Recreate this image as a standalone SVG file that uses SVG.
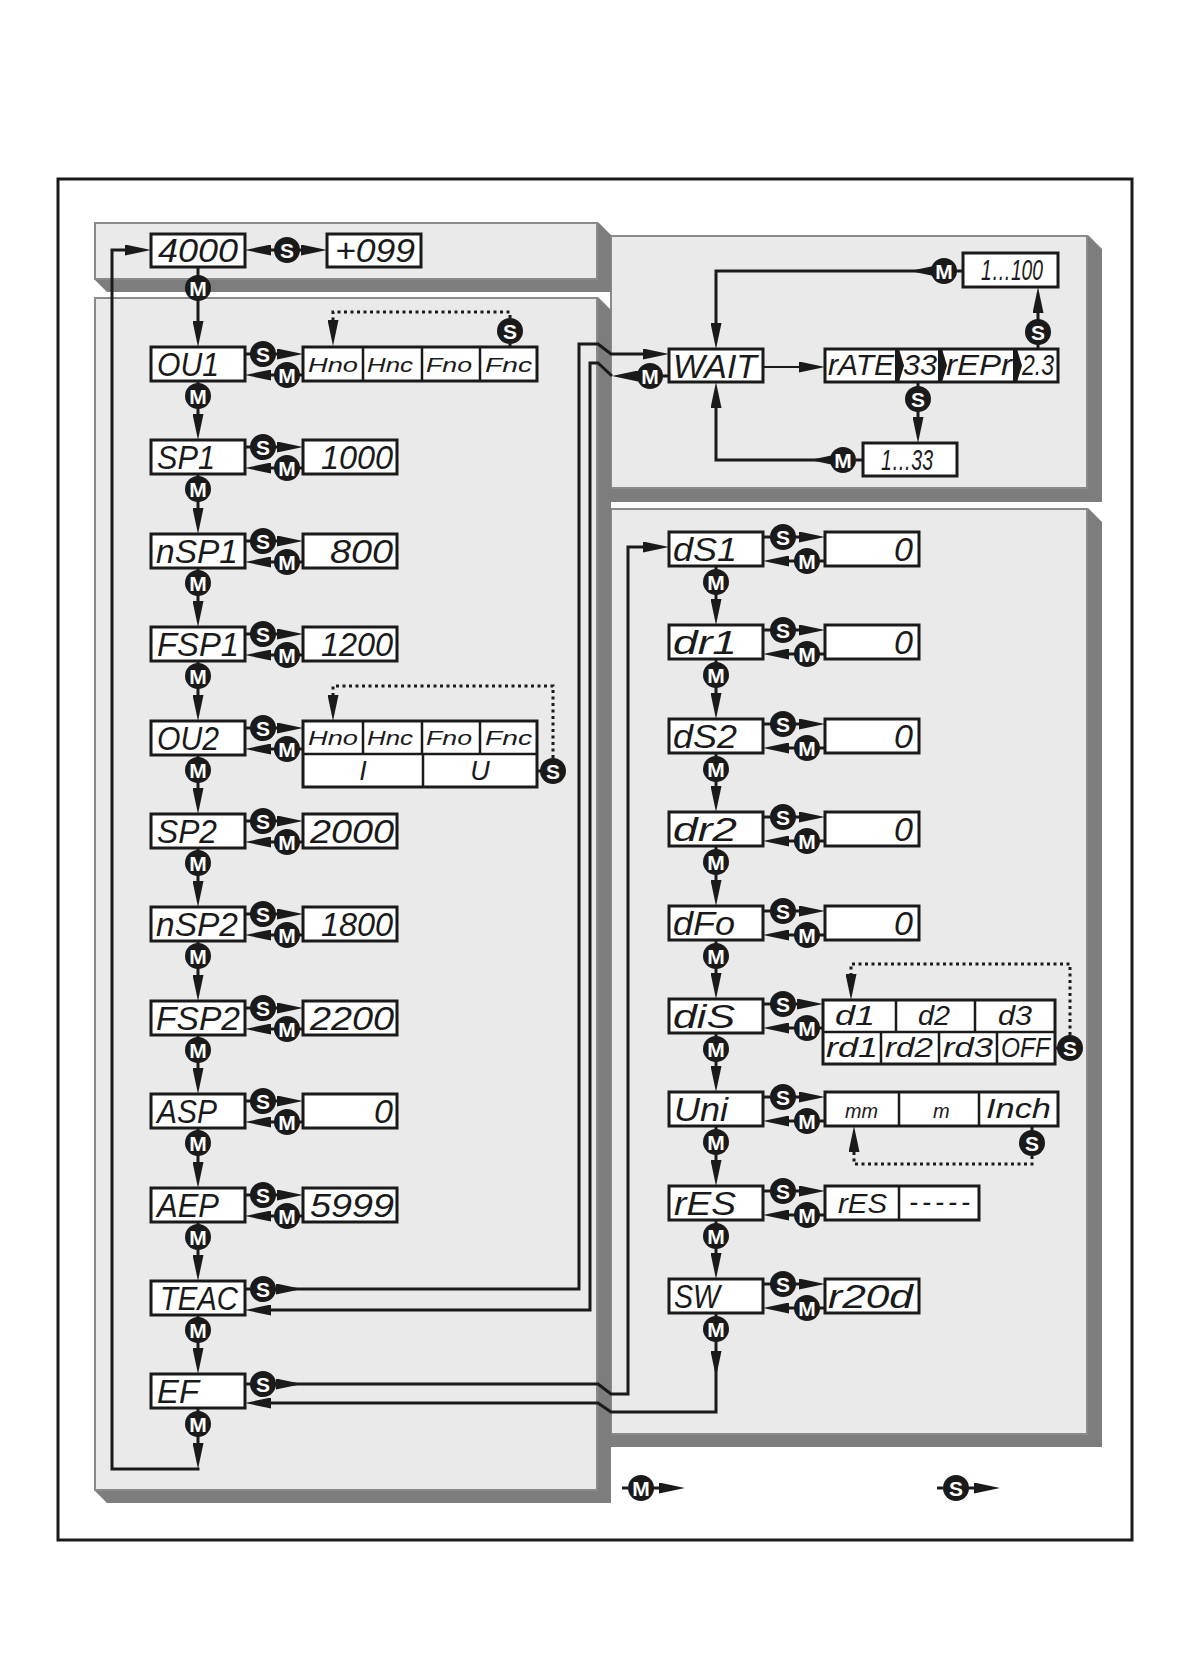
<svg xmlns="http://www.w3.org/2000/svg" xmlns:xlink="http://www.w3.org/1999/xlink" width="1191" height="1678" viewBox="0 0 1191 1678">
<style>
.pl{fill:#eaeaea;stroke:#8a8a8a;stroke-width:2}
.sh{fill:#7d7d7d}
.bx{fill:#fff;stroke:#1a1a1a;stroke-width:3}
.dv{stroke:#1a1a1a;stroke-width:2.5;fill:none}
.ln{fill:none;stroke:#1a1a1a;stroke-width:3}
.ar{fill:none;stroke:#1a1a1a;stroke-width:3;marker-end:url(#ah)}
.a2{fill:none;stroke:#1a1a1a;stroke-width:2;marker-end:url(#ah)}
.dt{fill:none;stroke:#1a1a1a;stroke-width:3;stroke-dasharray:3 3.5;marker-end:url(#ah)}
.t{font-family:"Liberation Sans",Arial,sans-serif;font-style:italic;fill:#1a1a1a}
.lg{font-size:34px}
.mi{font-size:30px}
.md{font-size:27px}
.sm{font-size:20px}
.ve{text-anchor:end}
.vc{text-anchor:middle}
.bc{fill:#1a1a1a}
.bt{font-family:"Liberation Sans",Arial,sans-serif;font-weight:bold;font-size:21px;fill:#fff;text-anchor:middle}
.ch{fill:#1a1a1a}
</style>
<defs>
<marker id="ah" markerUnits="userSpaceOnUse" markerWidth="26" markerHeight="11" viewBox="0 0 26 11" refX="16" refY="5.5" orient="auto"><path d="M0,0 L26,5.5 L0,11 Z" fill="#1a1a1a"/></marker>
<g id="bS"><circle class="bc" r="13"/><text class="bt" y="7.5">S</text></g>
<g id="bM"><circle class="bc" r="13"/><text class="bt" y="7.5">M</text></g>
</defs>
<rect x="0" y="0" width="1191" height="1678" fill="#fff"/>
<rect x="58" y="179" width="1074" height="1361" fill="none" stroke="#1a1a1a" stroke-width="3"/>
<g id="panels">
<polygon class="sh" points="611,235 1088,235 1102,249 1102,502 611,502"/>
<rect class="pl" x="611" y="236" width="476" height="252"/>
<polygon class="sh" points="611,508 1088,508 1102,522 1102,1447 611,1447"/>
<rect class="pl" x="611" y="509" width="476" height="925"/>
<polygon class="sh" points="94,222 598,222 611,235 611,292 107,292 94,279"/>
<rect class="pl" x="95" y="223" width="502" height="56"/>
<polygon class="sh" points="94,297 598,297 611,310 611,1503 107,1503 94,1490"/>
<rect class="pl" x="95" y="298" width="502" height="1192"/>
</g>
<g id="connectors">
<path class="ar" d="M287,250 H255"/>
<path class="ar" d="M287,250 H317"/>
<path class="ar" d="M198,267 V337"/>
<path class="ar" d="M245,354 H293"/><path class="ar" d="M303,375 H255"/><path class="ar" d="M198,381 V430"/>
<path class="ar" d="M245,447 H293"/><path class="ar" d="M303,468 H255"/><path class="ar" d="M198,474 V524"/>
<path class="ar" d="M245,541 H293"/><path class="ar" d="M303,562 H255"/><path class="ar" d="M198,568 V617"/>
<path class="ar" d="M245,634 H293"/><path class="ar" d="M303,655 H255"/><path class="ar" d="M198,661 V711"/>
<path class="ar" d="M245,728 H293"/><path class="ar" d="M303,749 H255"/><path class="ar" d="M198,755 V804"/>
<path class="ar" d="M245,821 H293"/><path class="ar" d="M303,842 H255"/><path class="ar" d="M198,848 V897"/>
<path class="ar" d="M245,914 H293"/><path class="ar" d="M303,935 H255"/><path class="ar" d="M198,941 V991"/>
<path class="ar" d="M245,1008 H293"/><path class="ar" d="M303,1029 H255"/><path class="ar" d="M198,1035 V1084"/>
<path class="ar" d="M245,1101 H293"/><path class="ar" d="M303,1122 H255"/><path class="ar" d="M198,1128 V1178"/>
<path class="ar" d="M245,1195 H293"/><path class="ar" d="M303,1216 H255"/><path class="ar" d="M198,1222 V1271"/>
<path class="ar" d="M198,1315 V1364"/>
<path class="ar" d="M198,1408 V1459"/>
<path class="ar" d="M199.5,1469 H112 V250 H141"/>
<path class="ln" d="M510,344 V347"/>
<path class="dt" d="M510,318 V312 H333 V336"/>
<path class="ln" d="M537,771 H541"/>
<path class="dt" d="M553,758 V686 H333 V711"/>
<path class="ar" d="M245,1289 H292"/>
<path class="ar" d="M292,1289 H579 V344 H598 L611,354 H659"/>
<path class="ar" d="M669,376 H622"/>
<path class="ar" d="M612,376 L598,363 H590 V1310 H255"/>
<path class="ar" d="M245,1384 H292"/>
<path class="ar" d="M292,1384 H598 L611,1394 H628 V547 H659"/>
<path class="ar" d="M716,1313 V1367"/>
<path class="ar" d="M716,1367 V1412 H611 L598,1403 H255"/>
<path class="a2" d="M763,367 H815"/>
<path class="ln" d="M918,382 V387"/>
<path class="ar" d="M918,399 V433"/>
<path class="ln" d="M863,460 H856"/>
<path class="ar" d="M843,460 H820"/>
<path class="ar" d="M820,460 H716 V392"/>
<path class="ln" d="M1038,349 V344"/>
<path class="ar" d="M1038,332 V297"/>
<path class="ln" d="M963,271 H956"/>
<path class="ar" d="M944,271 H920"/>
<path class="ar" d="M920,271 H716 V339"/>
<path class="ar" d="M763,537 H815"/><path class="ar" d="M825,561 H773"/><path class="ar" d="M716,566 V615"/>
<path class="ar" d="M763,630 H815"/><path class="ar" d="M825,654 H773"/><path class="ar" d="M716,659 V709"/>
<path class="ar" d="M763,724 H815"/><path class="ar" d="M825,748 H773"/><path class="ar" d="M716,753 V802"/>
<path class="ar" d="M763,817 H815"/><path class="ar" d="M825,841 H773"/><path class="ar" d="M716,846 V896"/>
<path class="ar" d="M763,911 H815"/><path class="ar" d="M825,935 H773"/><path class="ar" d="M716,940 V989"/>
<path class="ar" d="M763,1004 H813"/><path class="ar" d="M823,1028 H773"/><path class="ar" d="M716,1033 V1082"/>
<path class="ar" d="M763,1097 H815"/><path class="ar" d="M825,1121 H773"/><path class="ar" d="M716,1126 V1176"/>
<path class="ar" d="M763,1191 H815"/><path class="ar" d="M825,1215 H773"/><path class="ar" d="M716,1220 V1269"/>
<path class="ar" d="M763,1284 H815"/><path class="ar" d="M825,1308 H773"/>
<path class="ln" d="M1055,1048 H1058"/>
<path class="dt" d="M1070,1035 V964 H851 V990"/>
<path class="ln" d="M1032,1126 V1131"/>
<path class="dt" d="M1032,1156 V1164 H854 V1136"/>
<path class="ln" d="M622,1488 H628"/>
<path class="ar" d="M641,1488 H675"/>
<path class="ln" d="M937,1488 H943"/>
<path class="ar" d="M956,1488 H990"/>
</g>
<g id="buttons">
<use xlink:href="#bS" x="287" y="250"/>
<use xlink:href="#bM" x="198" y="288"/>
<use xlink:href="#bS" x="263" y="354"/><use xlink:href="#bS" x="263" y="447"/><use xlink:href="#bS" x="263" y="541"/><use xlink:href="#bS" x="263" y="634"/><use xlink:href="#bS" x="263" y="728"/><use xlink:href="#bS" x="263" y="821"/><use xlink:href="#bS" x="263" y="914"/><use xlink:href="#bS" x="263" y="1008"/><use xlink:href="#bS" x="263" y="1101"/><use xlink:href="#bS" x="263" y="1195"/><use xlink:href="#bS" x="263" y="1289"/><use xlink:href="#bS" x="263" y="1384"/>
<use xlink:href="#bM" x="287" y="375"/><use xlink:href="#bM" x="287" y="468"/><use xlink:href="#bM" x="287" y="562"/><use xlink:href="#bM" x="287" y="655"/><use xlink:href="#bM" x="287" y="749"/><use xlink:href="#bM" x="287" y="842"/><use xlink:href="#bM" x="287" y="935"/><use xlink:href="#bM" x="287" y="1029"/><use xlink:href="#bM" x="287" y="1122"/><use xlink:href="#bM" x="287" y="1216"/>
<use xlink:href="#bM" x="198" y="396"/><use xlink:href="#bM" x="198" y="489"/><use xlink:href="#bM" x="198" y="583"/><use xlink:href="#bM" x="198" y="676"/><use xlink:href="#bM" x="198" y="770"/><use xlink:href="#bM" x="198" y="863"/><use xlink:href="#bM" x="198" y="956"/><use xlink:href="#bM" x="198" y="1050"/><use xlink:href="#bM" x="198" y="1143"/><use xlink:href="#bM" x="198" y="1237"/><use xlink:href="#bM" x="198" y="1330"/><use xlink:href="#bM" x="198" y="1424"/>
<use xlink:href="#bS" x="510" y="331"/>
<use xlink:href="#bS" x="553" y="771"/>
<use xlink:href="#bM" x="650" y="376"/>
<use xlink:href="#bS" x="918" y="399"/>
<use xlink:href="#bS" x="1038" y="332"/>
<use xlink:href="#bM" x="843" y="460"/>
<use xlink:href="#bM" x="944" y="271"/>
<use xlink:href="#bS" x="783" y="537"/><use xlink:href="#bS" x="783" y="630"/><use xlink:href="#bS" x="783" y="724"/><use xlink:href="#bS" x="783" y="817"/><use xlink:href="#bS" x="783" y="911"/><use xlink:href="#bS" x="783" y="1004"/><use xlink:href="#bS" x="783" y="1097"/><use xlink:href="#bS" x="783" y="1191"/><use xlink:href="#bS" x="783" y="1284"/>
<use xlink:href="#bM" x="807" y="561"/><use xlink:href="#bM" x="807" y="654"/><use xlink:href="#bM" x="807" y="748"/><use xlink:href="#bM" x="807" y="841"/><use xlink:href="#bM" x="807" y="935"/><use xlink:href="#bM" x="807" y="1028"/><use xlink:href="#bM" x="807" y="1121"/><use xlink:href="#bM" x="807" y="1215"/><use xlink:href="#bM" x="807" y="1308"/>
<use xlink:href="#bM" x="716" y="582"/><use xlink:href="#bM" x="716" y="675"/><use xlink:href="#bM" x="716" y="769"/><use xlink:href="#bM" x="716" y="862"/><use xlink:href="#bM" x="716" y="956"/><use xlink:href="#bM" x="716" y="1049"/><use xlink:href="#bM" x="716" y="1142"/><use xlink:href="#bM" x="716" y="1236"/><use xlink:href="#bM" x="716" y="1329"/>
<use xlink:href="#bS" x="1070" y="1048"/>
<use xlink:href="#bS" x="1032" y="1143"/>
<use xlink:href="#bM" x="641" y="1488"/>
<use xlink:href="#bS" x="956" y="1488"/>
</g>
<g id="n-4000"><rect class="bx" x="151" y="234" width="94" height="33"/><text class="t lg" x="158" y="262" textLength="80" lengthAdjust="spacingAndGlyphs">4000</text></g>
<g id="n-p099"><rect class="bx" x="327" y="234" width="94" height="33"/><text class="t lg" x="335" y="262" textLength="80" lengthAdjust="spacingAndGlyphs">+099</text></g>
<g id="n-OU1"><rect class="bx" x="151" y="347" width="94" height="34"/><text class="t lg" x="157" y="376" textLength="62" lengthAdjust="spacingAndGlyphs">OU1</text></g>
<g id="n-OU1-opt"><rect class="bx" x="303" y="347" width="234" height="34"/><path class="dv" d="M363,347 V381 M422,347 V381 M480,347 V381"/>
<text class="t sm" x="308" y="372" textLength="50" lengthAdjust="spacingAndGlyphs">Hno</text><text class="t sm" x="367" y="372" textLength="46" lengthAdjust="spacingAndGlyphs">Hnc</text><text class="t sm" x="426" y="372" textLength="46" lengthAdjust="spacingAndGlyphs">Fno</text><text class="t sm" x="485" y="372" textLength="47" lengthAdjust="spacingAndGlyphs">Fnc</text></g>
<g id="n-SP1"><rect class="bx" x="151" y="440" width="94" height="34"/><text class="t lg" x="157" y="469" textLength="58" lengthAdjust="spacingAndGlyphs">SP1</text></g>
<g id="n-SP1-val"><rect class="bx" x="303" y="440" width="94" height="34"/><text class="t lg ve" x="393" y="469" textLength="72" lengthAdjust="spacingAndGlyphs">1000</text></g>
<g id="n-nSP1"><rect class="bx" x="151" y="534" width="94" height="34"/><text class="t lg" x="156" y="563" textLength="82" lengthAdjust="spacingAndGlyphs">nSP1</text></g>
<g id="n-nSP1-val"><rect class="bx" x="303" y="534" width="94" height="34"/><text class="t lg ve" x="393" y="563" textLength="63" lengthAdjust="spacingAndGlyphs">800</text></g>
<g id="n-FSP1"><rect class="bx" x="151" y="627" width="94" height="34"/><text class="t lg" x="157" y="656" textLength="82" lengthAdjust="spacingAndGlyphs">FSP1</text></g>
<g id="n-FSP1-val"><rect class="bx" x="303" y="627" width="94" height="34"/><text class="t lg ve" x="393" y="656" textLength="72" lengthAdjust="spacingAndGlyphs">1200</text></g>
<g id="n-OU2"><rect class="bx" x="151" y="721" width="94" height="34"/><text class="t lg" x="157" y="750" textLength="62" lengthAdjust="spacingAndGlyphs">OU2</text></g>
<g id="n-OU2-opt"><rect class="bx" x="303" y="721" width="234" height="66"/><path class="dv" d="M303,754 H537 M363,721 V754 M422,721 V754 M480,721 V754 M423,754 V787"/>
<text class="t sm" x="308" y="745" textLength="50" lengthAdjust="spacingAndGlyphs">Hno</text><text class="t sm" x="367" y="745" textLength="46" lengthAdjust="spacingAndGlyphs">Hnc</text><text class="t sm" x="426" y="745" textLength="46" lengthAdjust="spacingAndGlyphs">Fno</text><text class="t sm" x="485" y="745" textLength="47" lengthAdjust="spacingAndGlyphs">Fnc</text>
<text class="t md vc" x="363" y="780">I</text><text class="t md vc" x="480" y="780">U</text></g>
<g id="n-SP2"><rect class="bx" x="151" y="814" width="94" height="34"/><text class="t lg" x="157" y="843" textLength="60" lengthAdjust="spacingAndGlyphs">SP2</text></g>
<g id="n-SP2-val"><rect class="bx" x="303" y="814" width="94" height="34"/><text class="t lg ve" x="394" y="843" textLength="84" lengthAdjust="spacingAndGlyphs">2000</text></g>
<g id="n-nSP2"><rect class="bx" x="151" y="907" width="94" height="34"/><text class="t lg" x="156" y="936" textLength="82" lengthAdjust="spacingAndGlyphs">nSP2</text></g>
<g id="n-nSP2-val"><rect class="bx" x="303" y="907" width="94" height="34"/><text class="t lg ve" x="393" y="936" textLength="72" lengthAdjust="spacingAndGlyphs">1800</text></g>
<g id="n-FSP2"><rect class="bx" x="151" y="1001" width="94" height="34"/><text class="t lg" x="156" y="1030" textLength="84" lengthAdjust="spacingAndGlyphs">FSP2</text></g>
<g id="n-FSP2-val"><rect class="bx" x="303" y="1001" width="94" height="34"/><text class="t lg ve" x="394" y="1030" textLength="84" lengthAdjust="spacingAndGlyphs">2200</text></g>
<g id="n-ASP"><rect class="bx" x="151" y="1094" width="94" height="34"/><text class="t lg" x="157" y="1123" textLength="60" lengthAdjust="spacingAndGlyphs">ASP</text></g>
<g id="n-ASP-val"><rect class="bx" x="303" y="1094" width="94" height="34"/><text class="t lg ve" x="393" y="1123">0</text></g>
<g id="n-AEP"><rect class="bx" x="151" y="1188" width="94" height="34"/><text class="t lg" x="157" y="1217" textLength="62" lengthAdjust="spacingAndGlyphs">AEP</text></g>
<g id="n-AEP-val"><rect class="bx" x="303" y="1188" width="94" height="34"/><text class="t lg ve" x="394" y="1217" textLength="84" lengthAdjust="spacingAndGlyphs">5999</text></g>
<g id="n-TEAC"><rect class="bx" x="151" y="1281" width="94" height="34"/><text class="t lg" x="160" y="1310" textLength="78" lengthAdjust="spacingAndGlyphs">TEAC</text></g>
<g id="n-EF"><rect class="bx" x="151" y="1374" width="94" height="34"/><text class="t lg" x="157" y="1403" textLength="42" lengthAdjust="spacingAndGlyphs">EF</text></g>
<g id="n-WAIT"><rect class="bx" x="669" y="349" width="94" height="33"/><text class="t lg" x="673" y="378" textLength="84" lengthAdjust="spacingAndGlyphs">WAIT</text></g>
<g id="n-rATE"><rect class="bx" x="825" y="349" width="233" height="33"/>
<polygon class="ch" points="895,349 899,349 904,365.5 899,382 895,382"/><polygon class="ch" points="938,349 942,349 947,365.5 942,382 938,382"/><polygon class="ch" points="1013,349 1017,349 1022,365.5 1017,382 1013,382"/>
<text class="t mi" x="828" y="375" textLength="66" lengthAdjust="spacingAndGlyphs">rATE</text><text class="t mi" x="903" y="375" textLength="34" lengthAdjust="spacingAndGlyphs">33</text><text class="t mi" x="946" y="375" textLength="66" lengthAdjust="spacingAndGlyphs">rEPr</text><text class="t mi" x="1022" y="375" textLength="32" lengthAdjust="spacingAndGlyphs">2.3</text></g>
<g id="n-1-100"><rect class="bx" x="963" y="253" width="95" height="34"/><text class="t mi" x="981" y="280" textLength="62" lengthAdjust="spacingAndGlyphs">1…100</text></g>
<g id="n-1-33"><rect class="bx" x="863" y="443" width="94" height="33"/><text class="t mi" x="881" y="470" textLength="52" lengthAdjust="spacingAndGlyphs">1…33</text></g>
<g id="n-dS1"><rect class="bx" x="669" y="532" width="94" height="34"/><text class="t lg" x="673" y="561" textLength="64" lengthAdjust="spacingAndGlyphs">dS1</text></g>
<g id="n-dS1-val"><rect class="bx" x="825" y="532" width="94" height="34"/><text class="t lg ve" x="913" y="561">0</text></g>
<g id="n-dr1"><rect class="bx" x="669" y="625" width="94" height="34"/><text class="t lg" x="673" y="654" textLength="64" lengthAdjust="spacingAndGlyphs">dr1</text></g>
<g id="n-dr1-val"><rect class="bx" x="825" y="625" width="94" height="34"/><text class="t lg ve" x="913" y="654">0</text></g>
<g id="n-dS2"><rect class="bx" x="669" y="719" width="94" height="34"/><text class="t lg" x="673" y="748" textLength="64" lengthAdjust="spacingAndGlyphs">dS2</text></g>
<g id="n-dS2-val"><rect class="bx" x="825" y="719" width="94" height="34"/><text class="t lg ve" x="913" y="748">0</text></g>
<g id="n-dr2"><rect class="bx" x="669" y="812" width="94" height="34"/><text class="t lg" x="673" y="841" textLength="64" lengthAdjust="spacingAndGlyphs">dr2</text></g>
<g id="n-dr2-val"><rect class="bx" x="825" y="812" width="94" height="34"/><text class="t lg ve" x="913" y="841">0</text></g>
<g id="n-dFo"><rect class="bx" x="669" y="906" width="94" height="34"/><text class="t lg" x="673" y="935" textLength="62" lengthAdjust="spacingAndGlyphs">dFo</text></g>
<g id="n-dFo-val"><rect class="bx" x="825" y="906" width="94" height="34"/><text class="t lg ve" x="913" y="935">0</text></g>
<g id="n-diS"><rect class="bx" x="669" y="999" width="94" height="34"/><text class="t lg" x="673" y="1028" textLength="62" lengthAdjust="spacingAndGlyphs">diS</text></g>
<g id="n-diS-opt"><rect class="bx" x="823" y="1000" width="232" height="64"/><path class="dv" d="M823,1032 H1055 M896,1000 V1032 M975,1000 V1032 M881,1032 V1064 M939,1032 V1064 M997,1032 V1064"/>
<text class="t md" x="835" y="1025" textLength="40" lengthAdjust="spacingAndGlyphs">d1</text><text class="t md" x="918" y="1025" textLength="32" lengthAdjust="spacingAndGlyphs">d2</text><text class="t md" x="998" y="1025" textLength="34" lengthAdjust="spacingAndGlyphs">d3</text>
<text class="t md" x="826" y="1057" textLength="52" lengthAdjust="spacingAndGlyphs">rd1</text><text class="t md" x="885" y="1057" textLength="48" lengthAdjust="spacingAndGlyphs">rd2</text><text class="t md" x="943" y="1057" textLength="50" lengthAdjust="spacingAndGlyphs">rd3</text><text class="t md" x="1001" y="1057" textLength="49" lengthAdjust="spacingAndGlyphs">OFF</text></g>
<g id="n-Uni"><rect class="bx" x="669" y="1092" width="94" height="34"/><text class="t lg" x="674" y="1121" textLength="54" lengthAdjust="spacingAndGlyphs">Uni</text></g>
<g id="n-Uni-opt"><rect class="bx" x="825" y="1092" width="233" height="34"/><path class="dv" d="M899,1092 V1126 M979,1092 V1126"/>
<text class="t sm" x="845" y="1118" textLength="33" lengthAdjust="spacingAndGlyphs">mm</text><text class="t sm" x="933" y="1118">m</text><text class="t md" x="986" y="1118" textLength="65" lengthAdjust="spacingAndGlyphs">Inch</text></g>
<g id="n-rES"><rect class="bx" x="669" y="1186" width="94" height="34"/><text class="t lg" x="674" y="1215" textLength="62" lengthAdjust="spacingAndGlyphs">rES</text></g>
<g id="n-rES-opt"><rect class="bx" x="825" y="1186" width="154" height="34"/><path class="dv" d="M899,1186 V1220"/>
<text class="t md" x="838" y="1213" textLength="49" lengthAdjust="spacingAndGlyphs">rES</text><text class="t md" x="909" y="1211" textLength="61">-----</text></g>
<g id="n-SW"><rect class="bx" x="669" y="1279" width="94" height="34"/><text class="t lg" x="674" y="1308" textLength="46" lengthAdjust="spacingAndGlyphs">SW</text></g>
<g id="n-SW-val"><rect class="bx" x="825" y="1279" width="94" height="34"/><text class="t lg" x="828" y="1308" textLength="85" lengthAdjust="spacingAndGlyphs">r20d</text></g>
</svg>
